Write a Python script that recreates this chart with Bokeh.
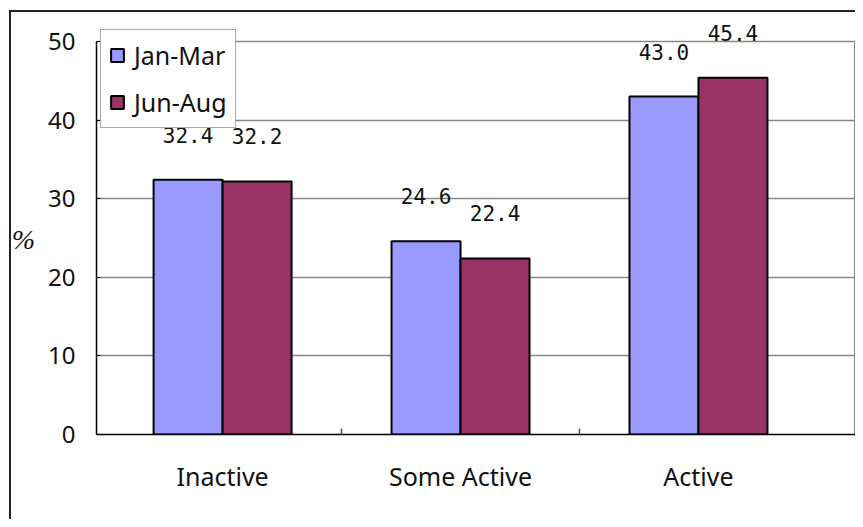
import numpy as np
from bokeh.plotting import figure
from bokeh.models import (ColumnDataSource, Range1d, FixedTicker, Legend, LegendItem, LabelSet)
from bokeh.transform import dodge
from bokeh.core.properties import value
from bokeh.embed import file_html
from bokeh.resources import INLINE

categories = ["Inactive", "Some Active", "Active"]
series_names = ["Jan-Mar", "Jun-Aug"]
jan_mar = [32.4, 24.6, 43.0]
jun_aug = [32.2, 22.4, 45.4]
y_ticks = [0, 10, 20, 30, 40, 50]

colors = ["#9999FF", "#993366"]
FONT = "Noto Sans"

centers = np.arange(len(categories)) + 0.5
src = ColumnDataSource(dict(
    x=centers,
    jan=jan_mar,
    jun=jun_aug,
    jan_lbl=[f"{v:.1f}" for v in jan_mar],
    jun_lbl=[f"{v:.1f}" for v in jun_aug],
))

y_top = y_ticks[-1]
x_start, x_end = -0.03, len(categories) + 0.16
# frame extends above the 50 line (headroom for the value labels); axes stop at 50
p = figure(width=855, height=519, output_backend="svg", toolbar_location=None,
           x_range=Range1d(x_start, x_end), y_range=Range1d(0, y_top + 41 / 7.86),
           min_border_left=96, min_border_top=0, min_border_bottom=85, min_border_right=0)

# outer chart border (top and left edges) drawn as the element's background
p.border_fill_alpha = 0
p.background_fill_alpha = 0
p.styles = {
    "background": ("linear-gradient(#222,#222) 9px 10px / 2px 100% no-repeat, "
                   "linear-gradient(#222,#222) 9px 10px / 100% 2px no-repeat, white"),
}

# right edge of the plot area
p.segment(x0=[x_end], y0=[0], x1=[x_end], y1=[y_top], line_color="#888888", line_width=3)

bw = 0.29
r1 = p.vbar(x=dodge("x", -bw / 2, range=p.x_range), top="jan", width=bw, bottom=0,
            source=src, fill_color=colors[0], line_color="black", line_width=2)
r2 = p.vbar(x=dodge("x", bw / 2, range=p.x_range), top="jun", width=bw, bottom=0,
            source=src, fill_color=colors[1], line_color="black", line_width=2)

for fld, off in (("jan_lbl", -bw / 2), ("jun_lbl", bw / 2)):
    lbl = LabelSet(x=dodge("x", off, range=p.x_range), y=fld.replace("_lbl", ""), text=fld,
                   source=src, text_align="center", text_baseline="alphabetic", y_offset=37,
                   text_font=value("DejaVu Sans Mono"), text_font_size=value("21px"),
                   text_color="#111")
    p.add_layout(lbl)

# axes
p.xaxis.ticker = FixedTicker(ticks=list(centers), minor_ticks=list(np.arange(1, len(categories))))
p.xaxis.major_label_overrides = {float(c): name for c, name in zip(centers, categories)}
p.xaxis.major_tick_line_color = None
p.xaxis.minor_tick_in = 6
p.xaxis.minor_tick_out = 0
p.xaxis.minor_tick_line_color = "#555"
p.xaxis.minor_tick_line_width = 1.5
p.xaxis.axis_line_color = "black"
p.xaxis.axis_line_width = 1.5
p.xaxis.major_label_standoff = 18
p.xaxis.major_label_text_font = FONT
p.xaxis.major_label_text_font_size = "25px"
p.xaxis.major_label_text_color = "#111"

p.yaxis.ticker = FixedTicker(ticks=y_ticks)
p.yaxis.bounds = (0, y_top)
p.yaxis.major_tick_in = 4
p.yaxis.major_tick_out = 0
p.yaxis.major_tick_line_color = "black"
p.yaxis.minor_tick_line_color = None
p.yaxis.axis_line_color = "black"
p.yaxis.axis_line_width = 1.5
p.yaxis.major_label_standoff = 21
p.yaxis.major_label_text_font = FONT
p.yaxis.major_label_text_font_size = "24px"
p.yaxis.major_label_text_color = "#111"
# leading newline pushes the "%" down to the middle of the 0-50 span
p.yaxis.axis_label = "\n%"
p.yaxis.axis_label_orientation = "horizontal"
p.yaxis.axis_label_text_font = "Liberation Serif"
p.yaxis.axis_label_text_font_style = "italic"
p.yaxis.axis_label_text_font_size = "28px"
p.yaxis.axis_label_text_line_height = 1.4
p.yaxis.axis_label_standoff = 10
p.yaxis.axis_label_text_color = "#111"

p.xgrid.grid_line_color = None
p.ygrid.grid_line_color = "#888888"
p.ygrid.grid_line_width = 1.5
p.outline_line_color = None

legend = Legend(items=[LegendItem(label=series_names[0], renderers=[r1]),
                       LegendItem(label=series_names[1], renderers=[r2])],
                location=(4, 306), orientation="vertical")
legend.label_text_font = FONT
legend.label_text_font_size = "25px"
legend.label_text_color = "#111"
legend.glyph_width = 16
legend.glyph_height = 16
legend.label_height = 22
legend.label_standoff = 9
legend.spacing = 13
legend.padding = 8
legend.margin = 0
legend.border_line_color = "#555"
legend.border_line_width = 1.5
legend.background_fill_color = "white"
legend.background_fill_alpha = 1
p.add_layout(legend, "center")

open("out.html", "w").write(file_html(p, INLINE))
